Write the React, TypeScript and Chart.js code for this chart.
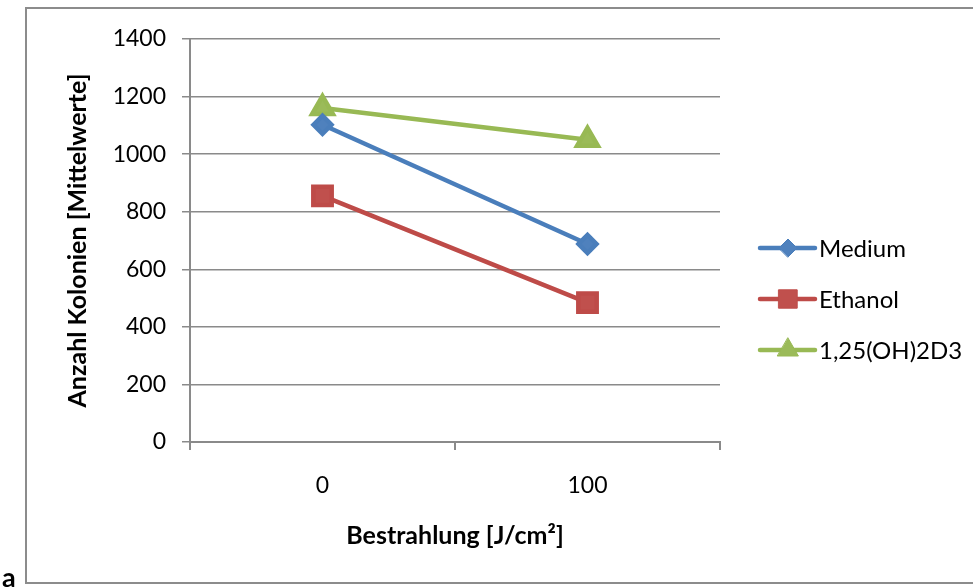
import React, { useEffect, useRef } from 'react';
import { Chart, registerables } from 'chart.js';
import { drawPoint } from 'chart.js/helpers';

Chart.register(...registerables);

const categories = ['0', '100'];
const mediumValues = [1102, 688];
const ethanolValues = [855, 484];
const vitaminValues = [1160, 1050];
const seriesNames = ['Medium', 'Ethanol', '1,25(OH)2D3'];
const yMin = 0;
const yMax = 1400;
const yStep = 200;
const xTitle = 'Bestrahlung [J/cm²]';
const yTitle = 'Anzahl Kolonien [Mittelwerte]';

const FONT = 'Lato';
const GRID = '#8a8a8a';

const frameAndLegend = {
  id: 'frameAndLegend',
  beforeDraw(chart: any) {
    const ctx = chart.ctx;
    ctx.save();
    ctx.fillStyle = '#fff';
    ctx.fillRect(0, 0, chart.width, chart.height);
    ctx.strokeStyle = '#8c8c8c';
    ctx.lineWidth = 2;
    ctx.strokeRect(26, 8, 960, 575);
    ctx.restore();
  },
  afterDraw(chart: any) {
    const ctx = chart.ctx;
    ctx.save();
    chart.data.datasets.forEach((ds: any, i: number) => {
      const y = 248 + i * 51;
      ctx.strokeStyle = ds.borderColor;
      ctx.lineWidth = 4.5;
      ctx.lineCap = 'round';
      ctx.beginPath();
      ctx.moveTo(760, y);
      ctx.lineTo(815, y);
      ctx.stroke();
      ctx.fillStyle = ds.pointBackgroundColor;
      ctx.strokeStyle = ds.pointBorderColor;
      ctx.lineWidth = 1;
      drawPoint(ctx, { pointStyle: ds.pointStyle, rotation: 0, radius: ds.pointRadius, borderWidth: 1 } as any, 788, y);
      ctx.fillStyle = '#000';
      ctx.font = `24px ${FONT}`;
      ctx.textBaseline = 'middle';
      ctx.textAlign = 'left';
      ctx.fillText(ds.label, 819, y + 1);
    });
    ctx.restore();
  },
};

export default function App() {
  const ref = useRef<HTMLCanvasElement | null>(null);
  useEffect(() => {
    if (!ref.current) return;
    const chart = new Chart(ref.current, {
      type: 'line',
      data: {
        labels: categories,
        datasets: [
          {
            label: seriesNames[0],
            data: mediumValues,
            borderColor: '#4A7EBB',
            backgroundColor: '#4F81BD',
            pointBackgroundColor: '#4F81BD',
            pointBorderColor: '#4A7EBB',
            pointStyle: 'rectRot',
            pointRadius: 9,
            borderWidth: 4.5,
            borderCapStyle: 'round',
          },
          {
            label: seriesNames[1],
            data: ethanolValues,
            borderColor: '#BE4B48',
            backgroundColor: '#C0504D',
            pointBackgroundColor: '#C0504D',
            pointBorderColor: '#BE4B48',
            pointStyle: 'rect',
            pointRadius: 13,
            borderWidth: 4.5,
            borderCapStyle: 'round',
          },
          {
            label: seriesNames[2],
            data: vitaminValues,
            borderColor: '#98B954',
            backgroundColor: '#9BBB59',
            pointBackgroundColor: '#9BBB59',
            pointBorderColor: '#98B954',
            pointStyle: 'triangle',
            pointRadius: 12,
            borderWidth: 4.5,
            borderCapStyle: 'round',
          },
        ],
      },
      options: {
        animation: false,
        responsive: false,
        layout: { padding: { left: 0, right: 253, top: 39, bottom: 0 } },
        plugins: { legend: { display: false }, tooltip: { enabled: false } },
        scales: {
          x: {
            offset: true,
            grid: { offset: true, drawOnChartArea: false, tickLength: 8, color: GRID, lineWidth: 2 },
            border: { color: GRID, width: 2 },
            ticks: { padding: 22, color: '#000', font: { family: FONT, size: 23 } },
            title: {
              display: true,
              text: xTitle,
              color: '#000',
              font: { family: FONT, size: 25, weight: 'bold' },
              padding: { top: 0, bottom: 36 },
            },
            afterFit(scale: any) {
              scale.height = 145;
            },
          },
          y: {
            min: yMin,
            max: yMax,
            ticks: {
              stepSize: yStep,
              padding: 16,
              color: '#000',
              font: { family: FONT, size: 23 },
              callback: (v: any) => String(v),
            },
            grid: { color: GRID, lineWidth: 1.5, tickLength: 8 },
            border: { color: GRID, width: 2 },
            title: {
              display: true,
              text: yTitle,
              color: '#000',
              font: { family: FONT, size: 25, weight: 'bold' },
              padding: { top: 63, bottom: 0 },
            },
            afterFit(scale: any) {
              scale.width = 190;
            },
          },
        },
      },
      plugins: [frameAndLegend],
    } as any);
    return () => chart.destroy();
  }, []);
  return (
    <div style={{ position: 'absolute', left: 0, top: 0, width: 973, height: 587, overflow: 'hidden', background: '#fff' }}>
      <canvas ref={ref} width={973} height={587} style={{ display: 'block' }} />
      <span
        style={{
          position: 'absolute',
          left: 2,
          top: 561,
          fontFamily: FONT,
          fontWeight: 'bold',
          fontSize: 27,
          lineHeight: '32px',
          color: '#000',
        }}
      >
        a
      </span>
    </div>
  );
}
